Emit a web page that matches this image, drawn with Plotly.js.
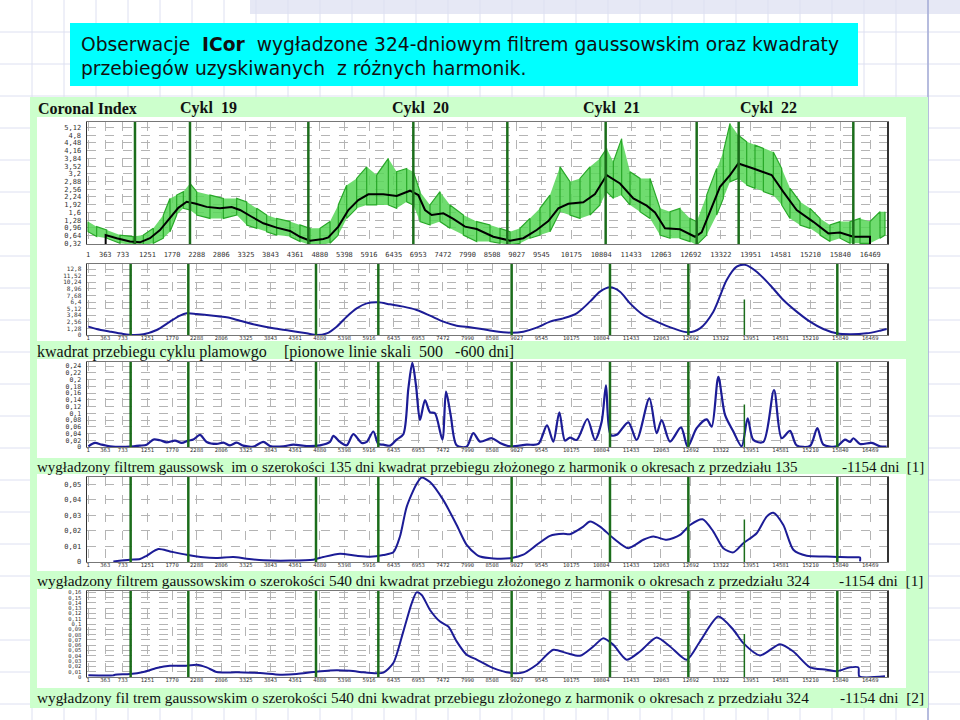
<!DOCTYPE html>
<html><head><meta charset="utf-8">
<script src="https://cdn.plot.ly/plotly-3.0.1.min.js"></script>
<style>html,body{margin:0;padding:0;background:#fff}#chart{width:960px;height:720px}</style>
</head><body><div id="chart"></div>
<script>
// ---------- x axis (day number) tick labels ----------
const xTickLabels = ['1','363','733','1251','1770','2288','2806','3325','3843','4361','4880','5398','5916','6435','6953','7472','7990','8508','9027','9545','10175','10804','11433','12063','12692','13322','13951','14581','15210','15840','16469'];

// ---------- vertical cycle lines (day) ----------
const cycleLinesTop   = [989, 2147, 4639, 6849, 8828, 10898, 12814, 13698, 16112];
const cycleLinesLower = [898, 2112, 4800, 6112, 8919, 10989, 12639, 13818, 15775];

// ---------- Panel 1: Coronal Index, daily observations (band read as high/low) ----------
const ciDay  = [1,182,393,674,954,1165,1375,1586,1726,1867,2007,2147,2288,2568,2849,3130,3340,3551,3761,3972,4253,4463,4674,4884,5095,5270,5446,5656,5867,6077,6323,6498,6709,6849,6989,7200,7411,7621,7902,8182,8463,8674,8884,9095,9305,9516,9726,9937,10147,10358,10568,10779,10919,11060,11235,11411,11621,11832,12042,12253,12463,12674,12814,13025,13235,13375,13516,13691,13867,14042,14218,14428,14604,14779,14989,15200,15411,15621,15832,16042,16253,16463,16674,16779];
const ciHigh = [1.22,1.01,0.87,0.66,0.60,0.66,0.94,1.49,2.18,2.32,2.46,2.80,2.46,2.32,2.18,2.18,2.04,1.77,1.49,1.35,1.22,1.08,0.94,0.94,1.22,1.91,2.73,3.01,3.49,3.15,3.84,3.29,3.42,3.29,2.46,1.91,2.46,1.91,1.49,1.22,1.08,0.94,0.80,0.94,1.35,1.77,2.32,3.49,2.87,3.01,3.49,3.84,4.25,3.70,4.66,3.29,3.01,3.01,1.77,1.63,1.77,1.35,1.22,2.32,3.42,4.11,5.29,4.80,4.53,4.39,4.25,4.11,3.42,2.60,2.04,1.77,1.35,1.08,1.22,1.22,1.35,1.22,1.63,1.63];
const ciLow  = [0.80,0.60,0.53,0.32,0.25,0.25,0.32,0.53,0.80,1.49,1.77,1.70,1.49,1.35,1.35,1.49,1.08,0.94,0.80,0.66,0.60,0.39,0.25,0.25,0.32,0.66,1.35,1.77,1.91,1.91,1.91,1.77,2.04,1.91,1.22,1.08,1.22,0.94,0.66,0.39,0.39,0.32,0.25,0.32,0.53,0.66,0.80,1.63,1.49,1.35,1.49,1.91,2.46,2.18,2.32,1.91,1.63,1.35,0.66,0.53,0.53,0.39,0.25,0.66,1.49,2.18,2.87,3.01,2.73,2.60,2.46,2.32,1.91,1.35,1.08,0.94,0.66,0.39,0.53,0.32,0.32,0.32,0.53,0.66];

// smoothed (324-day gaussian) Coronal Index
const ciSmoothDay = [372,372,604,884,1095,1305,1516,1726,1902,2077,2253,2498,2779,3024,3200,3445,3691,3972,4253,4463,4674,4954,5060,5270,5481,5691,5902,6217,6498,6779,6954,7095,7235,7481,7691,7937,8183,8533,8884,9165,9446,9691,9902,10112,10428,10674,10920,11200,11481,11762,11937,12147,12463,12779,12919,13095,13305,13516,13691,14007,14393,14638,14919,15270,15586,15832,16112,16463,16463];
const ciSmoothVal = [0.29,0.66,0.53,0.39,0.36,0.53,0.87,1.35,1.79,2.04,1.97,1.83,1.77,1.82,1.70,1.42,1.15,0.97,0.83,0.59,0.43,0.50,0.56,1.01,1.70,2.11,2.35,2.35,2.28,2.50,2.32,1.70,1.49,1.56,1.33,1.01,0.91,0.59,0.43,0.53,0.87,1.24,1.77,1.96,2.02,2.36,3.15,2.80,2.18,1.88,1.60,0.94,0.90,0.59,0.77,1.63,2.66,3.15,3.63,3.42,3.15,2.45,1.70,1.21,0.73,0.77,0.59,0.59,0.29];

// ---------- Panel 2: square of sunspot-cycle course ----------
const sqDay = [7,182,463,744,954,1165,1446,1726,1937,2077,2288,2639,2919,3200,3551,3902,4253,4604,4814,5025,5235,5446,5656,5867,6112,6358,6639,6919,7200,7481,7761,8042,8253,8533,8919,9165,9446,9726,10007,10288,10568,10779,10989,11200,11411,11691,11972,12323,12639,12884,13165,13446,13656,13832,14077,14358,14639,14919,15200,15481,15761,16042,16393,16674,16814];
const sqVal = [1.62,1.16,0.65,0.19,0.0,0.13,0.97,2.59,3.75,4.20,4.07,3.75,3.43,2.78,1.94,1.29,0.84,0.32,0.0,0.32,1.62,3.56,5.17,6.14,6.34,5.95,5.50,4.85,3.75,2.59,1.81,1.49,1.20,0.78,0.45,0.65,1.42,2.59,3.23,4.20,6.47,8.40,9.25,8.40,6.14,3.88,2.59,1.29,0.52,1.29,4.53,10.67,13.25,13.60,12.28,9.70,6.79,4.53,2.59,1.16,0.32,0.13,0.32,0.84,1.16];

// ---------- Panel 3: 135-day gaussian, harmonics 135-1154 d ----------
const g135Day = [7,147,288,463,884,1095,1235,1375,1516,1656,1832,1972,2112,2218,2358,2498,2709,2849,2989,3130,3270,3481,3691,3832,4112,4323,4604,4884,5095,5165,5305,5446,5586,5761,5867,6007,6112,6218,6358,6498,6639,6744,6828,6905,6989,7095,7200,7305,7460,7537,7635,7761,7972,8112,8253,8498,8674,8884,9235,9481,9663,9796,9923,10042,10147,10288,10512,10674,10814,10905,11003,11130,11375,11551,11818,11972,12077,12253,12484,12625,12814,13025,13130,13270,13411,13586,13761,13888,14007,14218,14442,14604,14779,14919,15200,15354,15481,15761,15937,16042,16112,16253,16498,16674,16814];
const g135Val = [0.002,0.012,0.007,0.002,0.001,0.004,0.007,0.022,0.020,0.014,0.019,0.012,0.019,0.022,0.036,0.015,0.009,0.013,0.005,0.013,0.004,0.001,0.015,0.003,0.002,0.007,0.003,0.005,0.015,0.033,0.015,0.005,0.038,0.012,0.015,0.046,0.009,0.007,0.004,0.022,0.038,0.173,0.250,0.183,0.080,0.139,0.103,0.100,0.022,0.164,0.095,0.005,0.001,0.041,0.016,0.026,0.012,0.002,0.007,0.009,0.064,0.016,0.103,0.019,0.028,0.021,0.083,0.021,0.075,0.183,0.036,0.036,0.073,0.021,0.144,0.041,0.080,0.016,0.058,0.001,0.056,0.082,0.060,0.208,0.095,0.046,0.002,0.085,0.021,0.015,0.169,0.026,0.048,0.005,0.003,0.056,0.007,0.002,0.022,0.015,0.026,0.009,0.012,0.002,0.001];

// ---------- Panel 4: 540-day gaussian, harmonics 324-1154 d [1] ----------
const g540aDay = [533,884,1095,1235,1481,1726,2077,2428,2709,3060,3340,3691,4253,4744,4954,5305,5656,5937,6218,6428,6568,6709,6919,7025,7200,7481,7761,7972,8182,8253,8533,8919,9165,9446,9726,10007,10147,10428,10568,10779,11060,11375,11691,11902,12183,12463,12674,12940,13165,13375,13586,13796,14077,14288,14428,14639,14849,15130,15551,15832,16183,16253,16253];
const g540aVal = [0.0004,0.0015,0.0019,0.0040,0.0083,0.0068,0.0047,0.0030,0.0026,0.0032,0.0021,0.0011,0.0009,0.0015,0.0032,0.0053,0.0040,0.0034,0.0045,0.0062,0.0164,0.0355,0.0504,0.0543,0.0515,0.0398,0.0238,0.0110,0.0047,0.0035,0.0023,0.0026,0.0047,0.0110,0.0168,0.0181,0.0179,0.0228,0.0260,0.0228,0.0153,0.0089,0.0143,0.0164,0.0143,0.0174,0.0238,0.0275,0.0196,0.0089,0.0062,0.0121,0.0185,0.0292,0.0317,0.0238,0.0079,0.0040,0.0036,0.0032,0.0030,0.0030,0.0004];

// ---------- Panel 5: 540-day gaussian, harmonics 324-1154 d [2] ----------
const g540bDay = [7,533,568,884,1165,1446,1726,2077,2288,2498,2709,3130,3621,4042,4393,4744,5095,5516,5796,6077,6218,6428,6639,6814,6919,7025,7200,7411,7586,7761,7972,8182,8533,8919,9165,9446,9796,10077,10358,10639,10849,11060,11340,11621,11972,12253,12604,12884,13270,13586,13796,14148,14568,14849,15200,15551,15761,16042,16218,16239,16779];
const g540bVal = [0.0031,0.0031,0.0044,0.0056,0.0094,0.0169,0.0213,0.0213,0.0232,0.0182,0.0094,0.0088,0.0075,0.0044,0.0056,0.0094,0.0125,0.0119,0.0088,0.0069,0.0082,0.0263,0.0862,0.1392,0.1599,0.1549,0.1267,0.1047,0.0953,0.0674,0.0420,0.0330,0.0169,0.0075,0.0088,0.0232,0.0514,0.0451,0.0401,0.0577,0.0734,0.0608,0.0326,0.0483,0.0746,0.0577,0.0326,0.0671,0.1141,0.0893,0.0640,0.0408,0.0621,0.0483,0.0182,0.0138,0.0107,0.0182,0.0182,0.0013,0.0013];

// ---------- y tick values / labels ----------
const yTicks1 = [0.32,0.64,0.96,1.28,1.6,1.92,2.24,2.56,2.88,3.2,3.52,3.84,4.16,4.48,4.8,5.12];
const yTicks2 = [0,1.28,2.56,3.84,5.12,6.4,7.68,8.96,10.24,11.52,12.8];
const yTicks3 = [0,0.02,0.04,0.06,0.08,0.1,0.12,0.14,0.16,0.18,0.2,0.22,0.24];
const yTicks4 = [0,0.01,0.02,0.03,0.04,0.05];
const yTicks5 = [0,0.01,0.02,0.03,0.04,0.05,0.06,0.07,0.08,0.09,0.1,0.11,0.12,0.13,0.14,0.15,0.16];

// ---------- texts ----------
const titleLine1 = 'Obserwacje\u00a0\u00a0<b>ICor</b>\u00a0\u00a0wygładzone 324-dniowym filtrem gaussowskim oraz kwadraty';
const titleLine2 = 'przebiegów uzyskiwanych\u00a0\u00a0z różnych harmonik.';
const headerLabels = ['Coronal Index','Cykl\u00a0\u00a019','Cykl\u00a0\u00a020','Cykl\u00a0\u00a021','Cykl\u00a0\u00a022'];
const captionsLeft = [
  'kwadrat przebiegu cyklu plamowgo',
  'wygładzony filtrem gaussowsk\u00a0\u00a0im o szerokości 135 dni kwadrat przebiegu złożonego z harmonik o okresach z przedziału 135',
  'wygładzony filtrem gaussowskim o szerokości 540 dni kwadrat przebiegu złożonego z harmonik o okresach z przedziału 324',
  'wygładzony fil trem gaussowskim o szerokości 540 dni kwadrat przebiegu złożonego z harmonik o okresach z przedziału 324'
];
const captionsRight = [
  '[pionowe linie skali\u00a0\u00a0500\u00a0\u00a0\u00a0-600 dni]',
  '-1154 dni\u00a0\u00a0[1]',
  '-1154 dni\u00a0\u00a0[1]',
  '-1154 dni\u00a0\u00a0[2]'
];

// ================= layout helpers =================
const W = 960, H = 720;
const fx = p => p / W;
const fy = p => 1 - p / H;
const fmt = v => String(v).replace('.', ',');

const frames = [
  {top:122, bottom:244, range:[0.29,5.35],   ticks:yTicks1, fs:7},
  {top:264, bottom:335, range:[0,13.77],     ticks:yTicks2, fs:6},
  {top:362, bottom:447, range:[0,0.252],     ticks:yTicks3, fs:6.5},
  {top:477, bottom:562, range:[0,0.0547],    ticks:yTicks4, fs:7},
  {top:591, bottom:677, range:[0,0.1625],    ticks:yTicks5, fs:5.5}
];
const xDom = [fx(87), fx(887)];
const xRange = [-21, 16821];
const tickFont = {family:'DejaVu Sans Mono', size:7, color:'#333'};

const layout = {
  width:W, height:H, margin:{l:0,r:0,t:0,b:0},
  paper_bgcolor:'#ffffff', plot_bgcolor:'rgba(0,0,0,0)',
  showlegend:false, shapes:[], annotations:[]
};

frames.forEach((f, i) => {
  const n = i === 0 ? '' : String(i + 1);
  layout['xaxis' + n] = {
    domain:xDom, range:xRange, anchor:'y' + n,
    tickmode:'array', tickvals:xTickLabels.map(Number), ticktext:xTickLabels,
    tickangle:0, tickfont:Object.assign({}, tickFont, {size: i === 0 ? 7 : 5.5}),
    ticks:'', ticklabelstandoff: i === 0 ? 4 : -3,
    showgrid:true, gridcolor:'#b4b4b4', griddash:'dash', gridwidth:1,
    showline:true, linecolor:'#777', linewidth:1, mirror:true, zeroline:false
  };
  layout['yaxis' + n] = {
    domain:[fy(f.bottom), fy(f.top)], range:f.range, anchor:'x' + n,
    tickmode:'array', tickvals:f.ticks, ticktext:f.ticks.map(fmt),
    tickfont:Object.assign({}, tickFont, {size:f.fs}),
    ticks:'', ticklabelstandoff:3,
    showgrid:true, gridcolor:'#b4b4b4', griddash:'dash', gridwidth:1,
    showline:true, linecolor:'#333', linewidth:1.5, mirror:true, zeroline:false
  };
});

// ---------- slide decoration ----------
const S = layout.shapes;
const rect = (x0,x1,y0,y1,color,line) => S.push({type:'rect', xref:'paper', yref:'paper', layer:'below',
  x0:fx(x0), x1:fx(x1), y0:fy(y1), y1:fy(y0), fillcolor:color, line:line || {width:0}});
const pline = (x0,y0,x1,y1,color,w) => S.push({type:'line', xref:'paper', yref:'paper', layer:'below',
  x0:fx(x0), x1:fx(x1), y0:fy(y0), y1:fy(y1), line:{color:color, width:w}});

rect(250, 960, 0, 14, '#e6e8f5');
for (let k = 1; k * 32 < W; k++) pline(k*32, 0, k*32, H, '#dde0f1', 1);
for (let k = 1; k * 32 < H; k++) pline(0, k*32, W, k*32, '#dde0f1', 1);
pline(928, 0, 928, H, '#a3abd6', 1.5);
rect(70, 858, 23, 86, '#00ffff');
rect(30, 928, 97, 708, '#ccffcc');
rect(37, 906, 117, 262, '#ffffff');
rect(37, 906, 262, 341, '#ffffff');
rect(37, 906, 359, 458, '#ffffff');
rect(37, 906, 474, 571, '#ffffff');
rect(37, 906, 589, 688, '#ffffff');

// ---------- cycle lines ----------
const lineColor = '#1b6d1b';
cycleLinesTop.forEach(d => S.push({type:'line', xref:'x', yref:'y domain', x0:d, x1:d, y0:0, y1:1,
  line:{color:lineColor, width:2.5}, layer:'above'}));
for (let p = 2; p <= 5; p++) {
  cycleLinesLower.forEach((d, j) => S.push({type:'line', xref:'x' + p, yref:'y' + p + ' domain',
    x0:d, x1:d, y0:0, y1:(j === 7 ? 0.5 : 1),
    line:{color:lineColor, width:(j === 7 ? 1.5 : 2.5)}, layer:'above'}));
}

// ---------- texts ----------
const A = layout.annotations;
const note = (text, x, y, font, xanchor) => A.push({text:text, xref:'paper', yref:'paper',
  x:fx(x), y:fy(y), xanchor:xanchor || 'left', yanchor:'middle', showarrow:false, font:font});
const titleFont = {family:'DejaVu Sans', size:18.7, color:'#111'};
note(titleLine1, 79, 44, titleFont);
note(titleLine2, 79, 68, titleFont);
const headFont = {family:'Liberation Serif', size:16, color:'#111'};
const headX = [36, 178, 390, 581, 738];
headerLabels.forEach((t, i) => note('<b>' + t + '</b>', headX[i], 108, headFont));
const capSizes = [16, 15, 15.4, 15.3];
const capY = [352, 467, 580, 697];
const capRightX = [282, 926, 926, 926];
captionsLeft.forEach((t, i) => {
  const f = {family:'Liberation Serif', size:capSizes[i], color:'#111'};
  note(t, 35, capY[i], f);
  note(captionsRight[i], capRightX[i], capY[i], f, i === 0 ? 'left' : 'right');
});

// ---------- traces ----------
const zzX = [], zzY = [];
ciDay.forEach((d, i) => {
  const a = i % 2 ? ciLow[i] : ciHigh[i], b = i % 2 ? ciHigh[i] : ciLow[i];
  zzX.push(d, d); zzY.push(a, b);
});
const blue = '#1c1c96';
const traces = [
  {x:ciDay, y:ciLow, xaxis:'x', yaxis:'y', mode:'lines', line:{width:0, color:'#66d866'}, hoverinfo:'skip'},
  {x:ciDay, y:ciHigh, xaxis:'x', yaxis:'y', mode:'lines', fill:'tonexty', fillcolor:'rgba(86,214,86,0.85)', line:{width:0, color:'#66d866'}, hoverinfo:'skip'},
  {x:zzX, y:zzY, xaxis:'x', yaxis:'y', mode:'lines', line:{width:1.2, color:'#28a828'}},
  {x:ciSmoothDay, y:ciSmoothVal, xaxis:'x', yaxis:'y', mode:'lines', line:{width:2, color:'#000'}},
  {x:sqDay, y:sqVal, xaxis:'x2', yaxis:'y2', mode:'lines', line:{width:2, color:blue, shape:'spline', smoothing:0.8}},
  {x:g135Day, y:g135Val, xaxis:'x3', yaxis:'y3', mode:'lines', line:{width:2.2, color:blue, shape:'spline', smoothing:0.8}},
  {x:g540aDay, y:g540aVal, xaxis:'x4', yaxis:'y4', mode:'lines', line:{width:2, color:blue, shape:'spline', smoothing:0.7}},
  {x:g540bDay, y:g540bVal, xaxis:'x5', yaxis:'y5', mode:'lines', line:{width:2, color:blue, shape:'spline', smoothing:0.7}}
];

Plotly.newPlot('chart', traces, layout, {staticPlot:true, displayModeBar:false});
</script>
</body></html>
